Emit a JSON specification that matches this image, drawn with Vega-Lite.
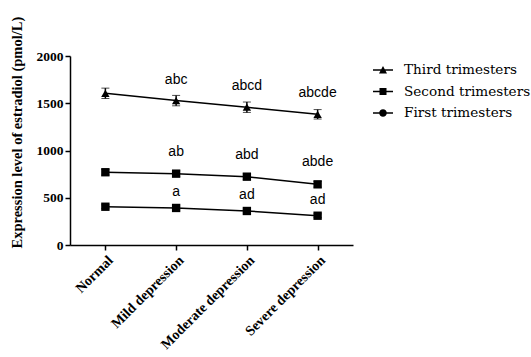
{
  "$schema": "https://vega.github.io/schema/vega-lite/v6.json",
  "width": 283,
  "height": 189,
  "autosize": {"type": "none"},
  "padding": {"left": 70, "top": 56, "right": 178, "bottom": 112},
  "background": "white",
  "config": {
    "view": {"stroke": null},
    "axis": {"grid": false, "domainColor": "black", "tickColor": "black", "domainWidth": 1.5, "tickWidth": 1.5, "labelColor": "black", "titleColor": "black", "labelFont": "Liberation Serif", "labelFontWeight": "bold", "titleFont": "Liberation Serif", "titleFontWeight": "bold", "tickSize": 5},
    "axisX": {"labelFontSize": 14, "labelAngle": -45, "labelAlign": "right", "labelBaseline": "top", "labelPadding": 3},
    "axisY": {"labelFontSize": 13.5, "titleFontSize": 14.5, "labelPadding": 2, "titlePadding": 12, "labelFont": "Liberation Serif"}
  },
  "data": {
    "values": [
      {"group": "Normal", "trimester": "Third trimesters", "value": 1605, "sd": 55, "sig": ""},
      {"group": "Mild depression", "trimester": "Third trimesters", "value": 1528, "sd": 55, "sig": "abc"},
      {"group": "Moderate depression", "trimester": "Third trimesters", "value": 1458, "sd": 55, "sig": "abcd"},
      {"group": "Severe depression", "trimester": "Third trimesters", "value": 1383, "sd": 50, "sig": "abcde"},
      {"group": "Normal", "trimester": "Second trimesters", "value": 770, "sd": 30, "sig": ""},
      {"group": "Mild depression", "trimester": "Second trimesters", "value": 755, "sd": 30, "sig": "ab"},
      {"group": "Moderate depression", "trimester": "Second trimesters", "value": 723, "sd": 30, "sig": "abd"},
      {"group": "Severe depression", "trimester": "Second trimesters", "value": 642, "sd": 30, "sig": "abde"},
      {"group": "Normal", "trimester": "First trimesters", "value": 405, "sd": 20, "sig": ""},
      {"group": "Mild depression", "trimester": "First trimesters", "value": 392, "sd": 20, "sig": "a"},
      {"group": "Moderate depression", "trimester": "First trimesters", "value": 360, "sd": 20, "sig": "ad"},
      {"group": "Severe depression", "trimester": "First trimesters", "value": 310, "sd": 20, "sig": "ad"}
    ]
  },
  "encoding": {
    "x": {
      "field": "group", "type": "ordinal",
      "sort": ["Normal", "Mild depression", "Moderate depression", "Severe depression"],
      "scale": {"type": "point", "padding": 0.5},
      "axis": {"title": null}
    },
    "y": {
      "field": "value", "type": "quantitative",
      "scale": {"domain": [0, 2000], "nice": false},
      "axis": {"title": "Expression level of estradiol (pmol/L)", "values": [0, 500, 1000, 1500, 2000], "format": "d", "labelFont": "Liberation Serif", "labelFontWeight": "bold", "titleAnchor": "start", "titleY": 192}
    }
  },
  "layer": [
    {
      "mark": {"type": "line", "color": "black", "strokeWidth": 1.5},
      "encoding": {"detail": {"field": "trimester"}}
    },
    {
      "mark": {"type": "errorbar", "color": "black", "ticks": {"size": 8, "strokeWidth": 1.5}, "rule": {"strokeWidth": 1.5}},
      "encoding": {"yError": {"field": "sd"}, "detail": {"field": "trimester"}}
    },
    {
      "mark": {"type": "point", "filled": true, "color": "black", "opacity": 1, "size": 70},
      "encoding": {
        "shape": {"field": "trimester", "type": "nominal", "scale": {"domain": ["Third trimesters", "Second trimesters", "First trimesters"], "range": ["triangle-up", "square", "square"]}, "legend": null}
      }
    },
    {
      "mark": {"type": "point", "filled": true, "color": "black", "opacity": 0, "size": 400},
      "encoding": {
        "shape": {
          "field": "trimester", "type": "nominal",
          "scale": {"domain": ["Third trimesters", "Second trimesters", "First trimesters"], "range": ["M-1,-0.075H1V0.075H-1ZM-0.4,0.35L0,-0.4L0.4,0.35Z", "M-1,-0.075H1V0.075H-1ZM-0.35,-0.35H0.35V0.35H-0.35Z", "M-1,-0.075H1V0.075H-1ZM0.38,0A0.38,0.38 0 1,1 -0.38,0A0.38,0.38 0 1,1 0.38,0Z"]},
          "legend": {
            "title": null, "orient": "none", "legendX": 302, "legendY": 3,
            "symbolSize": 400, "symbolOpacity": 1, "symbolFillColor": "black",
            "labelFont": "DejaVu Serif", "labelFontSize": 13.6, "labelColor": "black", "rowPadding": 3.5, "labelOffset": 10
          }
        }
      }
    },
    {
      "transform": [{"filter": "datum.trimester === 'Third trimesters'"}],
      "mark": {"type": "text", "font": "Liberation Sans", "fontSize": 14, "dy": -21, "color": "black"},
      "encoding": {"text": {"field": "sig"}}
    },
    {
      "transform": [{"filter": "datum.trimester === 'Second trimesters'"}],
      "mark": {"type": "text", "font": "Liberation Sans", "fontSize": 14, "dy": -22, "color": "black"},
      "encoding": {"text": {"field": "sig"}}
    },
    {
      "transform": [{"filter": "datum.trimester === 'First trimesters'"}],
      "mark": {"type": "text", "font": "Liberation Sans", "fontSize": 14, "dy": -16, "color": "black"},
      "encoding": {"text": {"field": "sig"}}
    }
  ],
  "resolve": {"scale": {"shape": "independent"}}
}
